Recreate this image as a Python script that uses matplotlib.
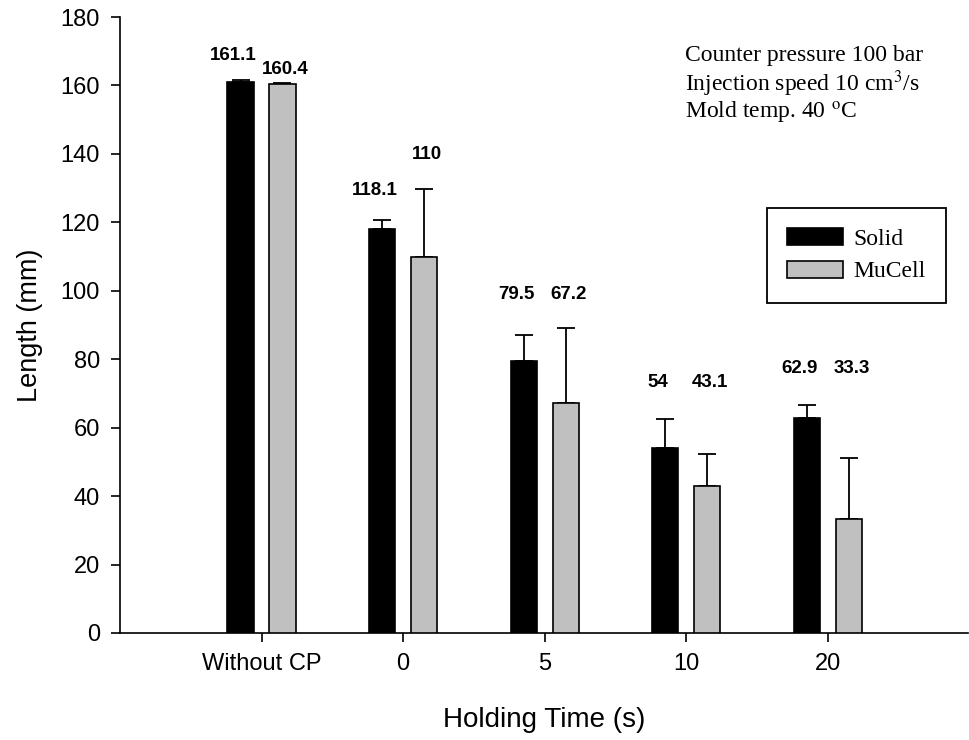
#!/usr/bin/env python

import numpy as np
from matplotlib import pyplot as plt

plt.rcParams['font.family'] = ['Liberation Sans', 'DejaVu Sans']

# Data
groups = ['Without CP', '0', '5', '10', '20']
solid = [161.1, 118.1, 79.5, 54.0, 62.9]
mucell = [160.4, 110.0, 67.2, 43.1, 33.3]
solid_err = [0.6, 2.7, 7.5, 8.5, 3.7]
mucell_err = [0.2, 19.7, 22.0, 9.2, 17.7]

# heights where the value labels sit (data units)
solid_lab_y = [168.9, 129.2, 98.8, 73.1, 77.4]
mucell_lab_y = [164.8, 139.7, 98.8, 73.1, 77.4]

conditions = ['Counter pressure 100 bar',
              r'Injection speed 10 cm$^3$/s',
              r'Mold temp. 40 $^{\rm o}$C']

x = np.arange(len(groups))
w = 0.185
off = 0.148

fig = plt.figure(figsize=(9.69, 7.40), dpi=100)
ax = fig.add_axes([0.1238, 0.1446, 0.8752, 0.8324])

ax.bar(x - off, solid, w, color='black', edgecolor='black', linewidth=1.2,
       label='Solid', zorder=3)
ax.bar(x + off, mucell, w, color='#c0c0c0', edgecolor='black', linewidth=1.2,
       label='MuCell', zorder=3)

zeros = np.zeros(len(groups))
ax.errorbar(x - off, solid, yerr=[zeros, solid_err], fmt='none',
            ecolor='black', elinewidth=1.3, capsize=6.5, capthick=1.3, zorder=2)
ax.errorbar(x + off, mucell, yerr=[zeros, mucell_err], fmt='none',
            ecolor='black', elinewidth=1.3, capsize=6.5, capthick=1.3, zorder=2)

for i in range(len(groups)):
    ax.text(x[i] - 0.2, solid_lab_y[i], f'{solid[i]:g}', ha='center',
            va='center', fontsize=13.5, fontweight='bold')
    ax.text(x[i] + 0.17, mucell_lab_y[i], f'{mucell[i]:g}', ha='center',
            va='center', fontsize=13.5, fontweight='bold')

ax.set_xlim(-1, 4.99)
ax.set_ylim(0, 180)
ax.set_yticks(np.arange(0, 181, 20))
ax.set_xticks(x)
ax.set_xticklabels(groups)

ax.spines['top'].set_visible(False)
ax.spines['right'].set_visible(False)
ax.spines['left'].set_linewidth(1.2)
ax.spines['bottom'].set_linewidth(1.2)
ax.tick_params(direction='out', length=6.5, width=1.2, labelsize=17, pad=8)

ax.set_xlabel('Holding Time (s)', fontsize=20, va='center')
ax.set_ylabel('Length (mm)', fontsize=19.5, va='center', ha='center')
ax.xaxis.set_label_coords(0.5, -0.141)
ax.yaxis.set_label_coords(-0.106, 0.5)

for k, line in enumerate(conditions):
    fig.text(685 / 969, 1 - (55 + 29 * k) / 740, line, ha='left', va='center',
             fontsize=17, family='Liberation Serif', math_fontfamily='stix')

leg = ax.legend(loc='upper left', bbox_to_anchor=(767 / 969, 1 - 208 / 740),
                bbox_transform=fig.transFigure, frameon=True, fancybox=False,
                edgecolor='black', framealpha=1,
                prop={'family': 'Liberation Serif', 'size': 17},
                handlelength=2.35, handleheight=0.75, handletextpad=0.45,
                labelspacing=0.45, borderpad=0.85, borderaxespad=0)
leg.get_frame().set_linewidth(1.3)

plt.savefig('out.png', dpi=100)
plt.close()
